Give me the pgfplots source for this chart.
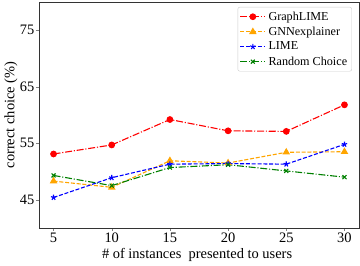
\documentclass[border=0pt]{standalone}
\usepackage{pgfplots}
\pgfplotsset{compat=1.18}
\usepackage{fontspec}
\setmainfont{Liberation Serif}
\definecolor{mplorange}{HTML}{FFA500}
\definecolor{mplgreen}{HTML}{008000}
\begin{document}
\begin{tikzpicture}[x=1bp,y=1bp]
\begin{axis}[
  at={(0,0)}, anchor=south west,
  scale only axis,
  width=320bp, height=226bp,
  xmin=3.75, xmax=31.25,
  ymin=40, ymax=80,
  xtick={5,10,15,20,25,30},
  ytick={45,55,65,75},
  tick align=outside,
  tick pos=left,
  major tick length=3bp,
  axis line style={black!80, line width=0.8bp},
  /pgf/number format/assume math mode=true,
  tick label style={font=\fontsize{14.5}{16}\selectfont},
  xticklabel style={inner sep=1.5bp},
  yticklabel style={inner sep=1.5bp},
  xlabel={\# of instances\ \ presented to users},
  ylabel={correct choice (\%)},
  every axis x label/.style={at={(axis description cs:0.494,-0.12)}, anchor=center, font=\fontsize{14.5}{16}\selectfont},
  every axis y label/.style={at={(axis description cs:-0.088,0.5)}, anchor=center, rotate=90, font=\fontsize{14.5}{16}\selectfont},
  legend style={at={(0.978,0.978)}, anchor=north east, draw=black!20, rounded corners=2bp,
    font=\fontsize{12.2}{14}\selectfont, row sep=0bp, inner sep=2bp,
    nodes={inner sep=2.6bp}},
  legend cell align=left,
  legend image code/.code={\draw[mark repeat=2,mark phase=2,#1] plot coordinates {(0bp,0bp) (12.5bp,0bp) (25bp,0bp)};},
  every axis plot/.append style={line width=1.1bp},
]
\addplot[red, dash pattern=on 7bp off 1.8bp on 1.1bp off 1.8bp, mark=*, mark size=2.8bp, mark options={solid}]
  coordinates {(5,53.1) (10,54.7) (15,59.2) (20,57.2) (25,57.1) (30,61.8)};
\addlegendentry{GraphLIME}
\addplot[mplorange, dash pattern=on 4bp off 1.8bp, mark=triangle*, mark size=3.3bp, mark options={solid}]
  coordinates {(5,48.3) (10,47.2) (15,51.9) (20,51.5) (25,53.4) (30,53.5)};
\addlegendentry{GNNexplainer}
\addplot[blue, dash pattern=on 4bp off 1.8bp, mark=star, mark size=2.8bp, mark options={solid}]
  coordinates {(5,45.4) (10,48.9) (15,51.3) (20,51.4) (25,51.3) (30,54.8)};
\addlegendentry{LIME}
\addplot[mplgreen, dash pattern=on 7bp off 1.8bp on 1.1bp off 1.8bp, mark=x, mark size=2.8bp, mark options={solid}]
  coordinates {(5,49.3) (10,47.5) (15,50.7) (20,51.2) (25,50.1) (30,49.0)};
\addlegendentry{Random Choice}
\end{axis}
\path[use as bounding box] (-39bp,-37bp) rectangle (321bp,228bp);
\end{tikzpicture}
\end{document}
